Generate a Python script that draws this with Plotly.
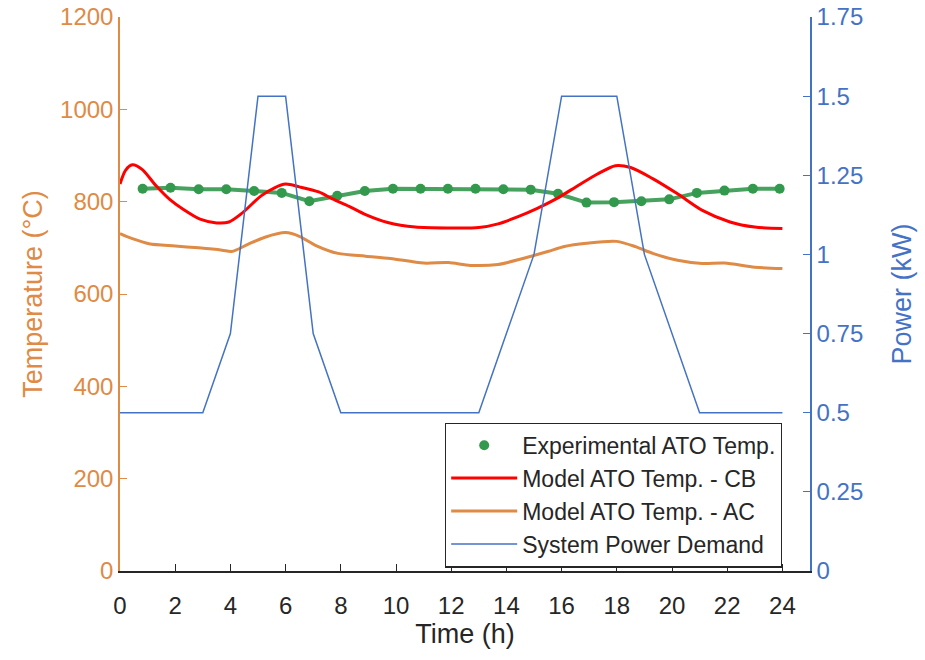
import plotly.graph_objects as go

# Experimental ATO temperature (logged roughly every hour)
exp_time = [0.82, 1.83, 2.85, 3.85, 4.86, 5.86, 6.86, 7.87, 8.87, 9.89, 10.89, 11.88,
            12.88, 13.89, 14.88, 15.87, 16.9, 17.9, 18.89, 19.9, 20.9, 21.9, 22.93, 23.9]
exp_temp = [828, 830, 827, 827, 823, 819, 801, 813, 823, 828, 828, 828,
            828, 827, 826, 817, 798, 799, 801, 805, 819, 824, 828, 828]

# Model ATO temperature - CB
cb_time = [0, 0.2, 0.45, 0.8, 1.3, 1.8, 2.3, 2.9, 3.5, 3.95, 4.4, 5.1, 5.6, 6.0, 6.5,
           7.2, 7.7, 8.3, 8.9, 9.7, 10.7, 11.9, 13.0, 13.7, 14.4, 15.1, 15.8, 16.6,
           17.3, 17.95, 18.5, 19.3, 20.2, 21.1, 22.1, 23.0, 24.0]
cb_temp = [838, 868, 880, 870, 835, 805, 783, 762, 754, 756, 774, 812, 830, 838, 832,
           821, 806, 790, 772, 755, 745, 743, 744, 752, 767, 785, 806, 835,
           860, 878, 874, 850, 817, 781, 756, 745, 742]

# Model ATO temperature - AC
ac_time = [0, 0.45, 1.05, 2.0, 2.85, 3.7, 4.05, 4.65, 5.25, 6.0, 6.5, 7.1, 7.9, 8.9,
           9.8, 11.0, 11.9, 12.7, 13.7, 14.6, 15.5, 16.1, 16.9, 18.0, 18.7, 19.3,
           20.2, 21.1, 21.9, 23.0, 24.0]
ac_temp = [731, 720, 709, 704, 700, 695, 692, 708, 723, 733, 725, 705, 688, 682,
           677, 667, 668, 662, 664, 677, 692, 703, 710, 714, 702, 688,
           673, 666, 667, 658, 655]

# System power demand (hourly profile)
pow_time = list(range(0, 25))
pow_kw = [0.5, 0.5, 0.5, 0.5, 0.75, 1.5, 1.5, 0.75, 0.5, 0.5, 0.5, 0.5, 0.5,
          0.5, 0.75, 1.0, 1.5, 1.5, 1.5, 1.0, 0.75, 0.5, 0.5, 0.5, 0.5]

x_ticks = list(range(0, 25, 2))
temp_ticks = [0, 200, 400, 600, 800, 1000, 1200]
power_ticks = [0, 0.25, 0.5, 0.75, 1, 1.25, 1.5, 1.75]
power_tick_text = ["0", "0.25", "0.5", "0.75", "1", "1.25", "1.5", "1.75"]

ORANGE = "#DF8A45"
BLUE = "#4472C4"
GREEN = "#33994D"
RED = "#FF0000"
DARK = "#262626"
FONT = "Liberation Sans, Arial, sans-serif"

fig = go.Figure()

fig.add_trace(go.Scatter(
    x=exp_time, y=exp_temp, mode="lines", showlegend=False, hoverinfo="skip",
    line=dict(color=GREEN, width=4), opacity=0.9))
fig.add_trace(go.Scatter(
    x=exp_time, y=exp_temp, mode="markers", name="Experimental ATO Temp.",
    marker=dict(color=GREEN, size=10)))
fig.add_trace(go.Scatter(
    x=cb_time, y=cb_temp, mode="lines", name="Model ATO Temp. - CB",
    line=dict(color=RED, width=3, shape="spline", smoothing=0.8)))
fig.add_trace(go.Scatter(
    x=ac_time, y=ac_temp, mode="lines", name="Model ATO Temp. - AC",
    line=dict(color=ORANGE, width=3, shape="spline", smoothing=0.8)))
fig.add_trace(go.Scatter(
    x=pow_time, y=pow_kw, mode="lines", name="System Power Demand",
    line=dict(color=BLUE, width=1.5), yaxis="y2"))

fig.update_layout(
    width=925, height=660,
    margin=dict(l=120, r=115, t=17, b=89),
    paper_bgcolor="white", plot_bgcolor="white",
    font=dict(family=FONT, size=24, color=DARK),
    xaxis=dict(
        range=[0, 25], tickvals=x_ticks, ticks="inside", ticklen=7,
        tickcolor=DARK, showline=True, linecolor=DARK, linewidth=1.5,
        showgrid=False, zeroline=False, automargin=False, ticklabelstandoff=12,
        tickfont=dict(size=24, color=DARK),
        title=dict(text="Time (h)", font=dict(size=27, color=DARK), standoff=4)),
    yaxis=dict(
        range=[0, 1200], tickvals=temp_ticks, ticks="inside", ticklen=7,
        tickcolor=ORANGE, showline=True, linecolor=ORANGE, linewidth=1.5,
        showgrid=False, zeroline=False, automargin=False,
        tickfont=dict(size=24, color=ORANGE),
        title=dict(text="Temperature (°C)", font=dict(size=27, color=ORANGE), standoff=10)),
    yaxis2=dict(
        range=[0, 1.75], tickvals=power_ticks, ticktext=power_tick_text,
        overlaying="y", side="right", ticks="inside", ticklen=7,
        tickcolor=BLUE, showline=True, linecolor=BLUE, linewidth=1.5,
        showgrid=False, zeroline=False, automargin=False,
        tickfont=dict(size=24, color=BLUE),
        title=dict(text="Power (kW)", font=dict(size=27, color=BLUE), standoff=30)),
    legend=dict(
        x=0.471, y=0.268, xanchor="left", yanchor="top",
        bgcolor="white", bordercolor=DARK, borderwidth=1.2,
        font=dict(size=23, color=DARK), tracegroupgap=0, itemwidth=66),
)

fig.write_html("out.html")
